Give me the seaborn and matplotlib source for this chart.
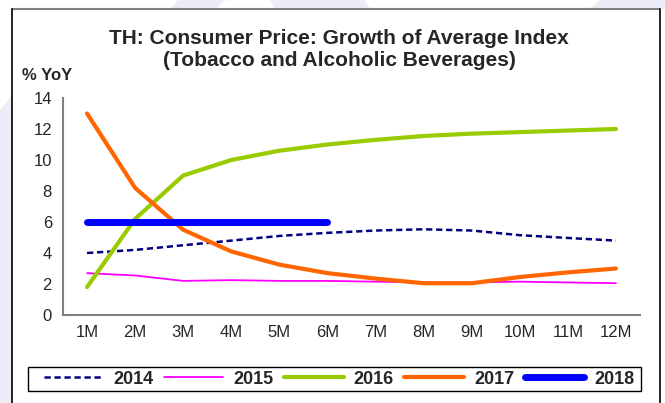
import pandas as pd
import matplotlib.pyplot as plt
import seaborn as sns
from matplotlib.patches import Polygon, Rectangle
from matplotlib.lines import Line2D

months = ['1M', '2M', '3M', '4M', '5M', '6M', '7M', '8M', '9M', '10M', '11M', '12M']
years = ['2014', '2015', '2016', '2017', '2018']

y2014 = [4.0, 4.2, 4.5, 4.8, 5.1, 5.3, 5.45, 5.53, 5.45, 5.15, 4.97, 4.8]
y2015 = [2.7, 2.55, 2.2, 2.25, 2.2, 2.2, 2.15, 2.1, 2.1, 2.15, 2.1, 2.05]
y2016 = [1.8, 6.2, 9.0, 10.0, 10.6, 11.0, 11.3, 11.55, 11.7, 11.8, 11.9, 12.0]
y2017 = [13.0, 8.2, 5.5, 4.1, 3.25, 2.7, 2.35, 2.05, 2.05, 2.45, 2.75, 3.0]
y2018 = [6.0, 6.0, 6.0, 6.0, 6.0, 6.0]

yticks = [0, 2, 4, 6, 8, 10, 12, 14]

colors = {'2014': '#000080', '2015': '#ff00ff', '2016': '#99cc00',
          '2017': '#ff6600', '2018': '#0000ff'}
widths = {'2014': 1.8, '2015': 1.3, '2016': 3.0, '2017': 3.0, '2018': 5.0}


def main():
    sns.set_style('white')
    plt.rcParams['font.family'] = ['Liberation Sans', 'DejaVu Sans']

    series = {'2014': y2014, '2015': y2015, '2016': y2016, '2017': y2017, '2018': y2018}
    rows = []
    for yr, vals in series.items():
        for i, v in enumerate(vals):
            rows.append({'year': yr, 'pos': i, 'value': v})
    df = pd.DataFrame(rows)

    fig = plt.figure(figsize=(6.65, 4.03), dpi=100)
    fig.patch.set_facecolor('white')
    W, H = 665.0, 403.0

    # faint watermark shapes behind the frame
    lav = '#ededf8'
    for pts in ([(0, 110), (12, 95), (12, 403), (0, 403)],
                [(178, 0), (225, 0), (215, 9), (170, 9)],
                [(270, 0), (365, 0), (370, 9), (275, 9)],
                [(600, 0), (665, 0), (665, 9), (590, 9)]):
        fig.patches.append(Polygon([(x / W, 1 - y / H) for x, y in pts],
                                   closed=True, transform=fig.transFigure,
                                   facecolor=lav, edgecolor='none', zorder=0))
    # outer frame
    fig.add_artist(Line2D([12 / W, 660 / W], [1 - 9 / H, 1 - 9 / H],
                          transform=fig.transFigure, color='#808080', lw=1.5))
    fig.add_artist(Line2D([12 / W, 12 / W], [0, 1 - 9 / H],
                          transform=fig.transFigure, color='black', lw=1.2))
    fig.add_artist(Line2D([660 / W, 660 / W], [0, 1 - 9 / H],
                          transform=fig.transFigure, color='black', lw=1.2))

    ax = fig.add_axes([63 / W, 1 - 315 / H, (640 - 63) / W, (315 - 98) / H])
    ax.set_facecolor('none')

    for yr in years:
        d = df[df['year'] == yr]
        kw = dict(color=colors[yr], linewidth=widths[yr], label=yr,
                  solid_capstyle='round')
        if yr == '2014':
            kw['linestyle'] = (0, (2.5, 1.5))
        sns.lineplot(data=d, x='pos', y='value', ax=ax, **kw)

    ax.set_xlim(-0.5, 11.5)
    ax.set_ylim(0, 14)
    ax.set_yticks(yticks)
    ax.set_yticklabels([str(t) for t in yticks], fontsize=12)
    ax.set_xticks([i - 0.5 for i in range(13)])
    ax.set_xticklabels([])
    ax.set_xticks(range(12), minor=True)
    ax.set_xticklabels(months, minor=True, fontsize=12)
    ax.tick_params(axis='x', which='major', direction='out', length=4,
                   width=1.2, color='#404040')
    ax.tick_params(axis='x', which='minor', length=0, pad=7)
    ax.tick_params(axis='y', direction='out', length=4, width=1.2,
                   color='#404040', pad=4)
    ax.set_xlabel('')
    ax.set_ylabel('')
    for s in ['top', 'right']:
        ax.spines[s].set_visible(False)
    for s in ['left', 'bottom']:
        ax.spines[s].set_color('#808080')
        ax.spines[s].set_linewidth(1.5)
    if ax.get_legend() is not None:
        ax.get_legend().remove()

    fig.text(339 / W, 1 - 38 / H, 'TH: Consumer Price: Growth of Average Index',
             ha='center', va='center', fontsize=15, fontweight='bold')
    fig.text(339 / W, 1 - 60 / H, '(Tobacco and Alcoholic Beverages)',
             ha='center', va='center', fontsize=15, fontweight='bold')
    fig.text(22 / W, 1 - 75 / H, '% YoY', ha='left', va='center',
             fontsize=12, fontweight='bold')

    # legend box drawn separately so the entries can sit with a wider left margin
    fig.patches.append(Rectangle((28 / W, 1 - 391 / H), 613 / W, 24 / H,
                                 transform=fig.transFigure, facecolor='white',
                                 edgecolor='black', linewidth=1.0, zorder=1))
    handles, labels = ax.get_legend_handles_labels()
    fig.legend(handles, labels, loc='center', ncol=5, mode='expand',
               bbox_to_anchor=(40 / W, 1 - 391 / H, 598 / W, 24 / H),
               prop={'weight': 'bold', 'size': 13}, frameon=False,
               handlelength=3.3, handletextpad=0.55, columnspacing=0.8,
               borderpad=0.2, borderaxespad=0)

    fig.savefig('out.png', dpi=100)


if __name__ == "__main__":
    main()
